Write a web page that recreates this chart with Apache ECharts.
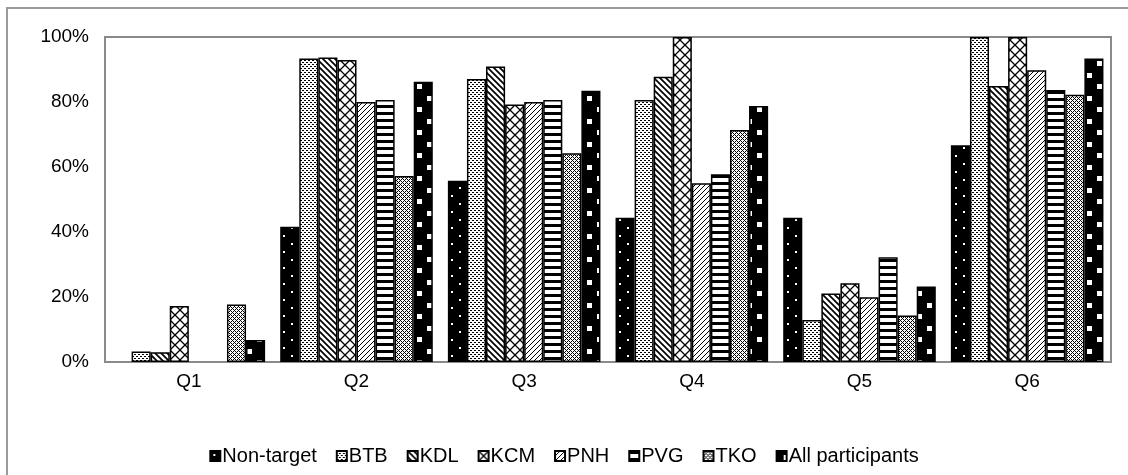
<!DOCTYPE html>
<html>
<head>
<meta charset="utf-8">
<script src="https://cdn.jsdelivr.net/npm/echarts@6/dist/echarts.min.js"></script>
<style>
  html, body { margin: 0; padding: 0; background: #fff; }
  #chart { width: 1128px; height: 475px; }
</style>
</head>
<body>
<div id="chart"></div>
<script>
// Share of respondents per question, by group (percent)
const categories = ['Q1', 'Q2', 'Q3', 'Q4', 'Q5', 'Q6'];
const seriesNames = ['Non-target', 'BTB', 'KDL', 'KCM', 'PNH', 'PVG', 'TKO', 'All participants'];
const nonTarget = [0, 41.6, 55.8, 44.4, 44.4, 66.7];
const btb = [3.2, 93.4, 87.1, 80.6, 12.9, 100];
const kdl = [3.0, 93.7, 90.9, 87.8, 21.1, 84.9];
const kcm = [17.2, 92.9, 79.2, 100, 24.2, 100];
const pnh = [0, 80.0, 80.0, 55.0, 19.9, 89.8];
const pvg = [0, 80.6, 80.6, 57.8, 32.2, 83.7];
const tko = [17.7, 57.2, 64.2, 71.4, 14.3, 82.2];
const allParticipants = [6.8, 86.2, 83.5, 78.8, 23.2, 93.4];
const yTicks = [0, 20, 40, 60, 80, 100];

const seriesValues = [nonTarget, btb, kdl, kcm, pnh, pvg, tko, allParticipants];

// Monochrome hatch fills drawn on small tiles
function tile(w, h, bg, draw) {
  const c = document.createElement('canvas');
  c.width = w; c.height = h;
  const ctx = c.getContext('2d');
  ctx.fillStyle = bg;
  ctx.fillRect(0, 0, w, h);
  draw(ctx);
  return { image: c, repeat: 'repeat' };
}

function lines(ctx, segs, width) {
  ctx.strokeStyle = '#000';
  ctx.lineWidth = width;
  ctx.beginPath();
  segs.forEach(s => { ctx.moveTo(s[0], s[1]); ctx.lineTo(s[2], s[3]); });
  ctx.stroke();
}

const fills = [
  // Non-target: black with sparse white dots
  tile(16, 16, '#000', ctx => {
    ctx.fillStyle = '#fff';
    ctx.fillRect(3, 3, 2, 2);
    ctx.fillRect(11, 11, 2, 2);
  }),
  // BTB: white with dense black dots
  tile(4, 4, '#fff', ctx => {
    ctx.fillStyle = '#000';
    ctx.fillRect(0, 0, 2, 1);
    ctx.fillRect(2, 2, 2, 1);
  }),
  // KDL: downward diagonal lines
  tile(6, 6, '#fff', ctx => {
    lines(ctx, [[-1, -1, 7, 7], [-1, 5, 1, 7], [5, -1, 7, 1]], 1.7);
  }),
  // KCM: open diamond lattice
  tile(10, 10, '#fff', ctx => {
    lines(ctx, [[0, 0, 10, 10], [10, 0, 0, 10]], 1.3);
  }),
  // PNH: upward diagonal lines
  tile(5, 5, '#fff', ctx => {
    lines(ctx, [[-1, 6, 6, -1], [-1, 1, 1, -1], [4, 6, 6, 4]], 1.0);
  }),
  // PVG: horizontal stripes
  tile(2, 7, '#fff', ctx => {
    ctx.fillStyle = '#000';
    ctx.fillRect(0, 0, 2, 3);
  }),
  // TKO: fine crosshatch
  tile(4, 4, '#fff', ctx => {
    ctx.fillStyle = '#000';
    ctx.fillRect(0, 0, 1, 1);
    ctx.fillRect(1, 1, 1, 1);
    ctx.fillRect(2, 2, 1, 1);
    ctx.fillRect(3, 3, 1, 1);
    ctx.fillRect(3, 1, 1, 1);
    ctx.fillRect(1, 3, 1, 1);
  }),
  // All participants: black with large white squares
  tile(20, 23, '#000', ctx => {
    ctx.fillStyle = '#fff';
    ctx.fillRect(7, 4, 5, 5);
    ctx.fillRect(17, 15, 5, 5);
    ctx.fillRect(-3, 15, 5, 5);
  })
];

const font = '"Liberation Sans", Arial, sans-serif';

const chart = echarts.init(document.getElementById('chart'), null, { renderer: 'canvas' });

chart.setOption({
  animation: false,
  backgroundColor: '#fff',
  graphic: [{
    type: 'rect',
    shape: { x: 7, y: 8, width: 1140, height: 490 },
    style: { fill: 'none', stroke: '#9a9a9a', lineWidth: 2 },
    silent: true
  }],
  grid: {
    left: 105, right: 17, top: 37, bottom: 113,
    show: true, borderColor: '#8a8a8a', borderWidth: 2, backgroundColor: 'transparent'
  },
  legend: {
    data: seriesNames,
    bottom: 4,
    left: 'center',
    itemWidth: 10,
    itemHeight: 10,
    itemGap: 19,
    icon: 'rect',
    textStyle: { fontFamily: font, fontSize: 20, color: '#000', padding: [0, 0, 0, -3] }
  },
  xAxis: {
    type: 'category',
    data: categories,
    axisLine: { show: true, lineStyle: { color: '#8a8a8a', width: 2 } },
    axisTick: { show: false },
    axisLabel: { fontFamily: font, fontSize: 19, color: '#000', margin: 10 },
    splitLine: { show: false }
  },
  yAxis: {
    type: 'value',
    min: yTicks[0],
    max: yTicks[yTicks.length - 1],
    interval: yTicks[1] - yTicks[0],
    axisLine: { show: true, lineStyle: { color: '#8a8a8a', width: 2 } },
    axisTick: { show: false },
    splitLine: { show: false },
    axisLabel: { fontFamily: font, fontSize: 19, color: '#000', margin: 16, formatter: '{value}%' }
  },
  series: seriesNames.map((name, i) => ({
    name: name,
    type: 'bar',
    barGap: '0%',
    barCategoryGap: '9%',
    itemStyle: { color: fills[i], borderColor: '#000', borderWidth: 1.5 },
    data: seriesValues[i].map(v => v === 0 ? { value: 0, itemStyle: { borderWidth: 0 } } : v)
  }))
});
</script>
</body>
</html>
